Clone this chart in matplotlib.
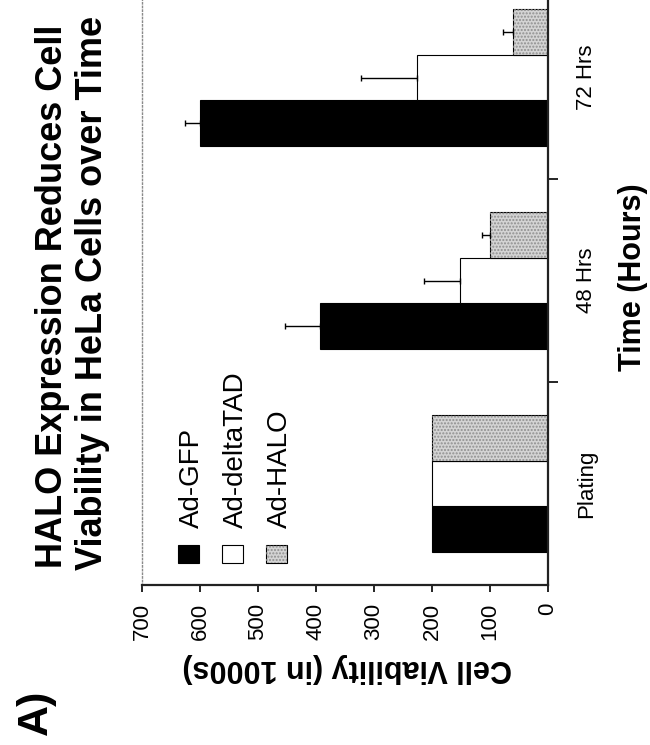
import matplotlib.pyplot as plt
from matplotlib.patches import Rectangle
import numpy as np

plt.rcParams['font.family'] = ['Liberation Sans', 'DejaVu Sans']

# data (cells, in 1000s)
categories = ['Plating', '48 Hrs', '72 Hrs']
series     = ['Ad-GFP', 'Ad-deltaTAD', 'Ad-HALO']
gfp        = [200, 393, 600]
gfp_err    = [0, 60, 26]
delta      = [200, 152, 226]
delta_err  = [0, 62, 96]
halo       = [200, 100, 60]
halo_err   = [0, 14, 17]
value_ticks = [0, 100, 200, 300, 400, 500, 600, 700]

W, H = 650, 745
fig = plt.figure(figsize=(W / 100, H / 100), dpi=100)

def fx(px):
    return px / W

def fy(py):
    return 1 - py / H

# the whole chart sits turned 90 degrees counter-clockwise on the page
ax = fig.add_axes([fx(142), fy(585), (548 - 142) / W, 609 / H])

colors  = ['black', 'white', '#d4d4d4']
hatches = [None, None, '.....']
values  = [gfp, delta, halo]
errors  = [gfp_err, delta_err, halo_err]
offsets = [-0.224, 0.0, 0.224]
y = np.arange(len(categories))

for vals, errs, off, col, hat in zip(values, errors, offsets, colors, hatches):
    pos = y + off
    ax.barh(pos, vals, height=0.224, color=col, edgecolor='black', linewidth=0.8)
    if hat:
        # halftone look of the grey bars
        ax.barh(pos, vals, height=0.224, facecolor='none', edgecolor='#8f8f8f',
                linewidth=0, hatch=hat)
    vals = np.array(vals)
    errs = np.array(errs)
    m = errs > 0
    ax.errorbar(vals[m], pos[m], xerr=[np.zeros(m.sum()), errs[m]], fmt='none',
                ecolor='black', elinewidth=1, capsize=2.5, capthick=1)

# value axis (bottom, reversed)
ax.set_xlim(700, 0)
ax.set_xticks(value_ticks)
ax.set_xticklabels([str(v) for v in value_ticks], rotation=90, fontsize=16)
ax.tick_params(axis='x', direction='out', length=5, width=1.2, pad=8)

# category axis (right)
ax.set_ylim(-0.5, 2.5)
ax.yaxis.tick_right()
ax.set_yticks([0.5, 1.5])
ax.set_yticklabels([])
ax.set_yticks(y, minor=True)
ax.set_yticklabels(categories, minor=True, rotation=90, fontsize=16, va='center')
ax.tick_params(axis='y', which='major', direction='out', length=7, width=1.2,
               right=True, left=False)
ax.tick_params(axis='y', which='minor', length=0, pad=20,
               labelright=True, labelleft=False, right=False, left=False)

ax.spines['top'].set_visible(False)
ax.spines['left'].set_color('#8a8a8a')
ax.spines['left'].set_linestyle(':')
ax.spines['left'].set_linewidth(1)
for s in ['right', 'bottom']:
    ax.spines[s].set_color('#222222')
    ax.spines[s].set_linewidth(1.6)

# texts
rot = dict(rotation_mode='anchor', fontweight='bold')
fig.text(fx(62), fy(568), 'HALO Expression Reduces Cell', rotation=90,
         ha='left', va='baseline', fontsize=26, **rot)
fig.text(fx(102), fy(570), 'Viability in HeLa Cells over Time', rotation=90,
         ha='left', va='baseline', fontsize=26, **rot)
fig.text(fx(47), fy(735), 'A)', rotation=90, ha='left', va='baseline', fontsize=31, **rot)
fig.text(fx(347), fy(660), 'Cell Viability (in 1000s)', rotation=180,
         ha='center', va='baseline', fontsize=22, **rot)
fig.text(fx(641), fy(277), 'Time (Hours)', rotation=90,
         ha='center', va='baseline', fontsize=22, **rot)

# legend, drawn by hand so it can be turned too
for i, (name, col, hat) in enumerate(zip(series, colors, hatches)):
    x0 = 178 + 44 * i
    fig.add_artist(Rectangle((fx(x0), fy(563)), 21 / W, 18 / H, transform=fig.transFigure,
                             facecolor=col, edgecolor='black', linewidth=0.8))
    if hat:
        fig.add_artist(Rectangle((fx(x0), fy(563)), 21 / W, 18 / H, transform=fig.transFigure,
                                 facecolor='none', edgecolor='#8f8f8f', linewidth=0,
                                 hatch=hat))
    fig.text(fx(x0 + 21), fy(528), name, rotation=90, rotation_mode='anchor',
             ha='left', va='baseline', fontsize=20)

fig.savefig('out.png', dpi=100)
